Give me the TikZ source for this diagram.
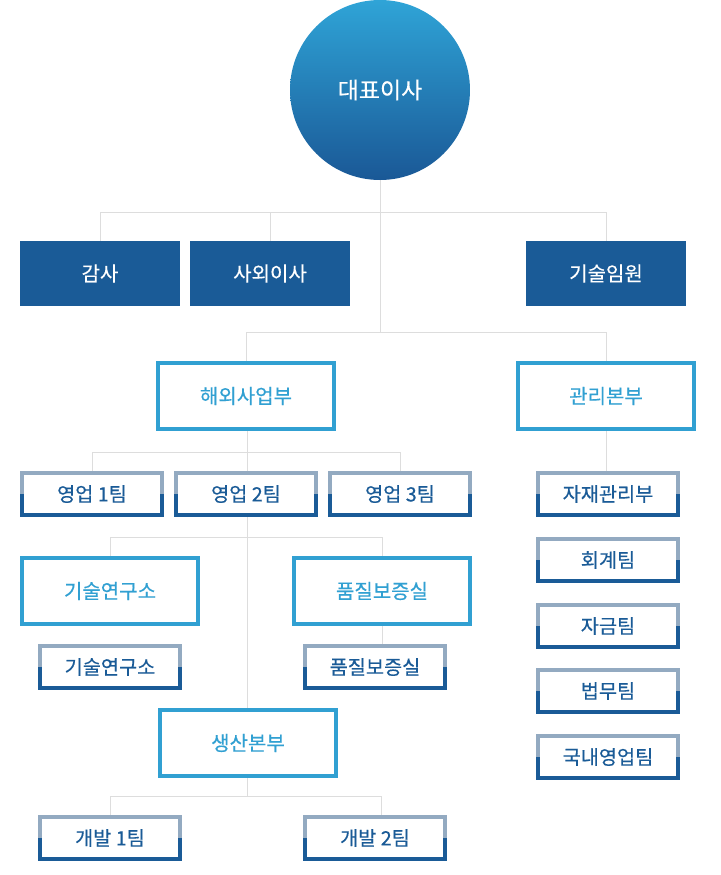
\documentclass[tikz,border=0pt]{standalone}
\usepackage{fontspec}
\newfontfamily\kr[FakeBold=0.4]{Noto Sans CJK KR}
\usetikzlibrary{backgrounds}
\definecolor{dkblue}{HTML}{1A5B97}
\definecolor{ltblue}{HTML}{31A0D2}
\definecolor{grayblue}{HTML}{93AAC1}
\definecolor{linegray}{HTML}{DDDDDD}
\definecolor{circtop}{HTML}{2FA4D7}
\definecolor{circbot}{HTML}{1A5896}
\tikzset{
  conn/.style={draw=linegray, line width=1pt},
  darkbox/.style={fill=dkblue, minimum width=160pt, minimum height=65pt, inner sep=0pt, text=white, font=\kr\fontsize{20}{22}\selectfont},
  bluebox/.style={draw=ltblue, fill=white, line width=4pt, minimum width=176pt, minimum height=66pt, inner sep=0pt, text=ltblue, font=\kr\fontsize{20}{22}\selectfont},
  smallbox/.style={fill=white, minimum width=144pt, minimum height=46pt, inner sep=0pt, text=dkblue, font=\kr\fontsize{19.7}{22}\selectfont,
    path picture={
      \fill[grayblue] (path picture bounding box.north west) rectangle (path picture bounding box.east);
      \fill[dkblue] (path picture bounding box.west) rectangle (path picture bounding box.south east);
      \fill[white] ([xshift=4pt,yshift=-4pt]path picture bounding box.north west) rectangle ([xshift=-4pt,yshift=4pt]path picture bounding box.south east);
    }},
  ceostyle/.style={circle, minimum size=180pt, inner sep=0pt, top color=circtop, bottom color=circbot, text=white, font=\kr\fontsize{23}{26}\selectfont}
}
\begin{document}
\begin{tikzpicture}[x=1pt,y=-1pt]
\useasboundingbox (0,0) rectangle (720,875);
% top
\node[ceostyle] (ceo) at (380,90) {대표이사};
\node[darkbox] (audit) at (100,273.5) {감사};
\node[darkbox] (outside) at (270,273.5) {사외이사};
\node[darkbox] (tech) at (606,273.5) {기술임원};
% divisions
\node[bluebox] (hw) at (246,396) {해외사업부};
\node[bluebox] (mgmt) at (606,396) {관리본부};
% sales
\node[smallbox] (s1) at (92,494) {영업 1팀};
\node[smallbox] (s2) at (246,494) {영업 2팀};
\node[smallbox] (s3) at (400,494) {영업 3팀};
% labs
\node[bluebox] (lab) at (110,591) {기술연구소};
\node[bluebox] (qa) at (382,591) {품질보증실};
\node[smallbox] (lab2) at (110,667) {기술연구소};
\node[smallbox] (qa2) at (375,667) {품질보증실};
% production
\node[bluebox] (prod) at (248,743) {생산본부};
\node[smallbox] (dev1) at (110,838) {개발 1팀};
\node[smallbox] (dev2) at (375,838) {개발 2팀};
% management column
\node[smallbox] (r1) at (608,494) {자재관리부};
\node[smallbox] (r2) at (608,560) {회계팀};
\node[smallbox] (r3) at (608,626) {자금팀};
\node[smallbox] (r4) at (608,691) {법무팀};
\node[smallbox] (r5) at (608,757) {국내영업팀};
% junctions
\coordinate (j1) at (380,212);
\coordinate (j2) at (380,332);
\coordinate (j3) at (247,452);
\coordinate (j4) at (247,537);
\coordinate (j5) at (247,796);
\coordinate (j6) at (381,796);
\begin{scope}[on background layer]
\draw[conn] (ceo.south) -- (j2);
\draw[conn] (audit.north) -- (audit.north |- j1) -- (tech.north |- j1) -- (tech.north);
\draw[conn] (outside.north) -- (outside.north |- j1);
\draw[conn] (hw.north) -- (hw.north |- j2) -- (mgmt.north |- j2) -- (mgmt.north);
\draw[conn] (hw.south -| j3) -- (prod.north -| j3);
\draw[conn] (s1.north) -- (s1.north |- j3) -- (s3.north |- j3) -- (s3.north);
\draw[conn] (lab.north) -- (lab.north |- j4) -- (qa.north |- j4) -- (qa.north);
\draw[conn] (qa.south) -- (qa.south |- qa2.north);
\draw[conn] (prod.south -| j5) -- (j5);
\draw[conn] (dev1.north) -- (dev1.north |- j5) -- (j6) -- (j6 |- dev2.north);
\draw[conn] (mgmt.south) -- (mgmt.south |- r1.north);
\end{scope}
\end{tikzpicture}
\end{document}
